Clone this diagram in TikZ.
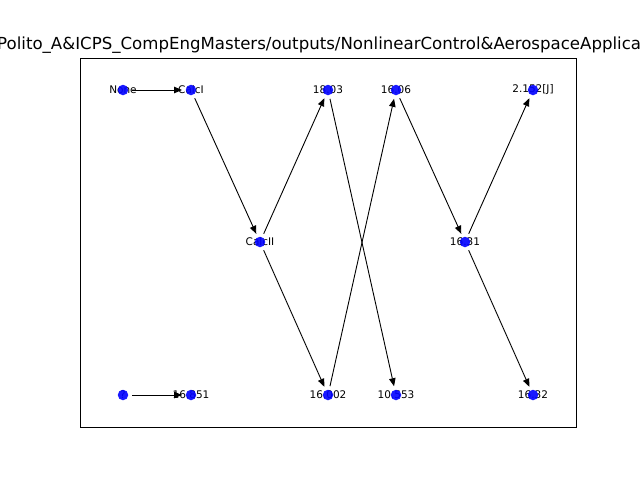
\documentclass[tikz,border=0pt]{standalone}
\usepackage{fontspec}
\setmainfont{DejaVu Sans}
\usetikzlibrary{arrows.meta}
\begin{document}
\begin{tikzpicture}[x=1pt,y=-1pt,
  lbl/.style={font=\fontsize{10.5}{12}\selectfont, inner sep=0pt, text=black},
  dot/.style={circle, fill=blue, fill opacity=0.9, inner sep=0pt, minimum size=10.5pt},
  edge/.style={-{Triangle[length=8pt,width=6.5pt]}, line width=0.9pt, shorten <=9pt, shorten >=9pt}]
\useasboundingbox (0,0) rectangle (640,480);
\node[anchor=base west, font=\fontsize{16.6}{19}\selectfont, inner sep=0pt] (title) at (-3,49) {Polito\_A\&ICPS\_CompEngMasters/outputs/NonlinearControl\&AerospaceApplications};
\draw[line width=0.8pt] (80,58) rectangle (576,427);
% coordinates
\coordinate (pNone) at (123,90);
\coordinate (pCalcI) at (191,90);
\coordinate (p1803) at (328,90);
\coordinate (p1606) at (396,90);
\coordinate (p2152) at (533,90);
\coordinate (pCalcII) at (260,242);
\coordinate (p1631) at (465,242);
\coordinate (pQ) at (123,395);
\coordinate (p16851) at (191,395);
\coordinate (p16002) at (328,395);
\coordinate (p10553) at (396,395);
\coordinate (p1632) at (533,395);
% edges
\draw[edge] (pNone) -- (pCalcI);
\draw[edge] (pCalcI) -- (pCalcII);
\draw[edge] (pCalcII) -- (p1803);
\draw[edge] (pCalcII) -- (p16002);
\draw[edge] (p1803) -- (p10553);
\draw[edge] (p16002) -- (p1606);
\draw[edge] (p1606) -- (p1631);
\draw[edge] (p1631) -- (p2152);
\draw[edge] (p1631) -- (p1632);
\draw[edge] (pQ) -- (p16851);
% labels
\node[lbl] (tNone) at (pNone) {None};
\node[lbl] (tCalcI) at (pCalcI) {CalcI};
\node[lbl] (t1803) at (p1803) {18.03};
\node[lbl] (t1606) at (p1606) {16.06};
\node[lbl] (t2152) at (p2152) {2.152[J]};
\node[lbl] (tCalcII) at (pCalcII) {CalcII};
\node[lbl] (t1631) at (p1631) {16.31};
\node[lbl] (tQ) at (pQ) {?};
\node[lbl] (t16851) at (p16851) {16.851};
\node[lbl] (t16002) at (p16002) {16.002};
\node[lbl] (t10553) at (p10553) {10.553};
\node[lbl] (t1632) at (p1632) {16.32};
% dots
\foreach \p in {pNone,pCalcI,p1803,p1606,p2152,pCalcII,p1631,pQ,p16851,p16002,p10553,p1632}
  \node[dot] at (\p) {};
\end{tikzpicture}
\end{document}
